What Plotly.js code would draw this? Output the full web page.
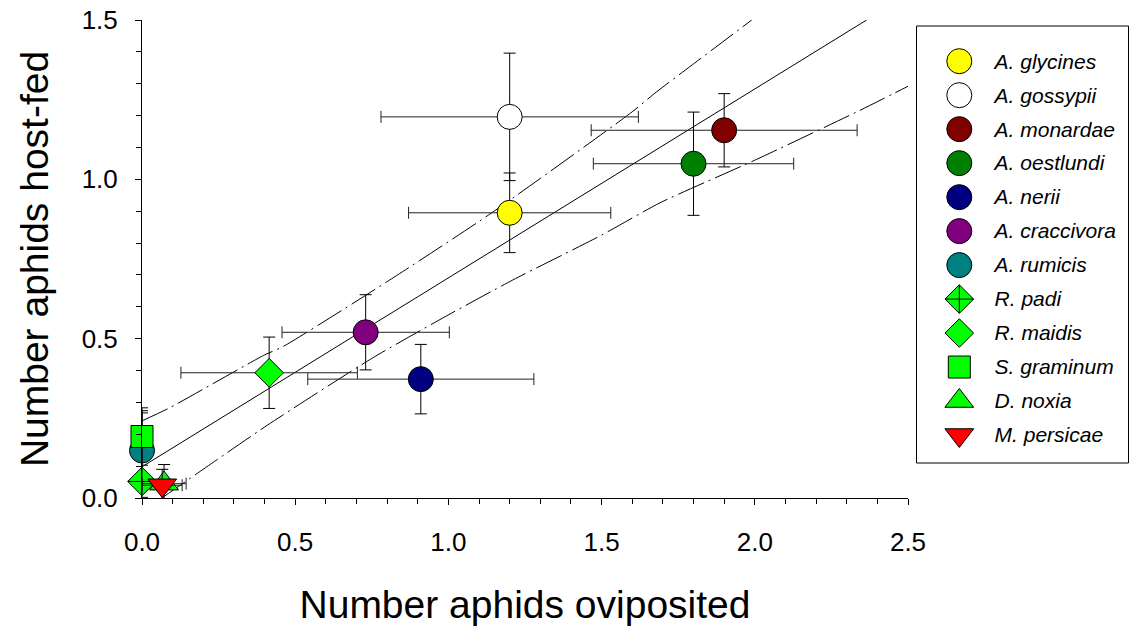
<!DOCTYPE html>
<html>
<head>
<meta charset="utf-8">
<script src="https://cdn.plot.ly/plotly-3.0.1.min.js"></script>
<style>
html,body{margin:0;padding:0;background:#fff;}
#chart{width:1130px;height:626px;}
</style>
</head>
<body>
<div id="chart"></div>
<script>
// ---- data ----
const species = ['A. glycines','A. gossypii','A. monardae','A. oestlundi','A. nerii','A. craccivora','A. rumicis','R. padi','R. maidis','S. graminum','D. noxia','M. persicae'];
const ovipX      = [1.20, 1.20, 1.90, 1.80, 0.91, 0.73, 0.00, 0.00, 0.415, 0.00, 0.072, 0.066];
const hostY      = [0.895, 1.196, 1.154, 1.049, 0.373, 0.520, 0.149, 0.052, 0.393, 0.193, 0.045, 0.040];
const ovipErr    = [0.33, 0.42, 0.434, 0.327, 0.369, 0.273, 0.00, 0.00, 0.288, 0.00, 0.072, 0.065];
const hostErrUp  = [0.125, 0.20, 0.115, 0.162, 0.109, 0.118, 0.125, 0.215, 0.112, 0.09, 0.06, 0.05];
const hostErrDn  = [0.125, 0.20, 0.115, 0.162, 0.109, 0.118, 0.125, 0.05, 0.112, 0.09, 0.06, 0.05];

// regression line and confidence band
const fitX   = [0.0, 2.365];
const fitY   = [0.098, 1.5];
const upperX = [0.0, 0.09, 0.40, 0.46, 0.80, 1.14, 1.60, 1.68, 1.79, 1.99];
const upperY = [0.242, 0.283, 0.449, 0.475, 0.679, 0.894, 1.212, 1.275, 1.355, 1.5];
const lowerX = [0.065, 0.18, 0.41, 0.75, 0.98, 1.21, 1.50, 1.69, 2.0, 2.34, 2.5];
const lowerY = [0.0, 0.077, 0.229, 0.438, 0.564, 0.684, 0.825, 0.926, 1.06, 1.215, 1.292];

// ---- styles ----
const fillColors = ['#ffff00','#ffffff','#800000','#008000','#000080','#800080','#008080','#00ff00','#00ff00','#00ff00','#00ff00','#ff0000'];
const symbols    = ['circle','circle','circle','circle','circle','circle','circle','diamond-cross','diamond','square','triangle-up','triangle-down'];
const sizes      = [25,25,25,25,25,25,25,22,22,22,25,25];

const FONT = 'Liberation Sans, Arial, Helvetica, sans-serif';
const traces = [];
const bandDash = '28px,5px,2px,5px';

traces.push({x: upperX, y: upperY, mode:'lines', type:'scatter', line:{color:'#000', width:1, dash:bandDash, shape:'spline', smoothing:0.6}, hoverinfo:'skip', showlegend:false});
traces.push({x: lowerX, y: lowerY, mode:'lines', type:'scatter', line:{color:'#000', width:1, dash:bandDash, shape:'spline', smoothing:0.6}, hoverinfo:'skip', showlegend:false});
traces.push({x: fitX, y: fitY, mode:'lines', type:'scatter', line:{color:'#000', width:1}, hoverinfo:'skip', showlegend:false});

species.forEach((s, i) => {
  traces.push({
    type:'scatter', mode:'markers', name:s,
    x:[ovipX[i]], y:[hostY[i]], cliponaxis:false, showlegend:false,
    marker:{symbol:symbols[i], size:sizes[i], color:fillColors[i], opacity:1, line:{color:'#000', width:1}},
    error_x:{type:'data', array:[ovipErr[i]], visible: ovipErr[i] > 0, color:'#222', thickness:1, width:6},
    error_y:{type:'data', symmetric:false, array:[hostErrUp[i]], arrayminus:[hostErrDn[i]], color:'#000', thickness:1, width:6}
  });
});

// legend panel built from the species list on its own small subplot
traces.push({
  type:'scatter', mode:'markers', xaxis:'x2', yaxis:'y2', hoverinfo:'skip', showlegend:false, cliponaxis:false,
  x: species.map(() => 0), y: species,
  marker:{symbol:symbols, size:sizes, color:fillColors, opacity:1, line:{color:'#000', width:1}}
});

const W = 1130, L = 142, R = 2, T = 20, B = 128;
const pw = W - L - R;
const px = v => (v - L) / pw;
const ph = 626 - T - B;
const py = v => (626 - B - v) / ph;

const layout = {
  width: W, height: 626,
  margin:{l:L, r:R, t:T, b:B, pad:0},
  paper_bgcolor:'#fff', plot_bgcolor:'rgba(0,0,0,0)',
  font:{family:FONT, color:'#000'},
  showlegend:false,
  hovermode:false,
  xaxis:{
    domain:[0, px(908)], range:[0, 2.5], dtick:0.5, tick0:0, tickformat:'.1f',
    showline:true, linecolor:'#000', linewidth:1, showgrid:false, zeroline:false,
    ticks:'outside', ticklen:6, tickcolor:'#000', tickwidth:1,
    minor:{dtick:0.1, ticks:'outside', ticklen:5, tickcolor:'#000', tickwidth:1, showgrid:false},
    tickfont:{size:26, family:FONT}, ticklabelstandoff:15,
    title:{text:'Number aphids oviposited', font:{size:39, family:FONT}, standoff:34}
  },
  yaxis:{
    domain:[0,1], range:[0, 1.5], dtick:0.5, tick0:0, tickformat:'.1f',
    showline:true, linecolor:'#000', linewidth:1, showgrid:false, zeroline:false,
    ticks:'outside', ticklen:6, tickcolor:'#000', tickwidth:1,
    minor:{dtick:0.1, ticks:'outside', ticklen:5, tickcolor:'#000', tickwidth:1, showgrid:false},
    tickfont:{size:26, family:FONT}, ticklabelstandoff:12,
    title:{text:'Number aphids host-fed', font:{size:39, family:FONT}, standoff:20}
  },
  xaxis2:{domain:[px(949), px(969.6)], range:[-1,1], anchor:'y2', visible:false, fixedrange:true},
  yaxis2:{
    domain:[py(452), py(44.2)], anchor:'x2', side:'right', type:'category',
    categoryorder:'array', categoryarray:species, range:[11.5, -0.5], autorange:false,
    showgrid:false, zeroline:false, showline:false, ticks:'',
    tickfont:{size:21, family:FONT, style:'italic'}, ticklabelstandoff:24, fixedrange:true
  },
  shapes:[{
    type:'rect', xref:'paper', yref:'paper',
    x0:px(916.5), x1:px(1128.5), y0:py(463), y1:py(26),
    line:{color:'#000', width:1}, fillcolor:'rgba(0,0,0,0)', layer:'below'
  }]
};

Plotly.newPlot('chart', traces, layout, {staticPlot:true, displayModeBar:false});
</script>
</body>
</html>
